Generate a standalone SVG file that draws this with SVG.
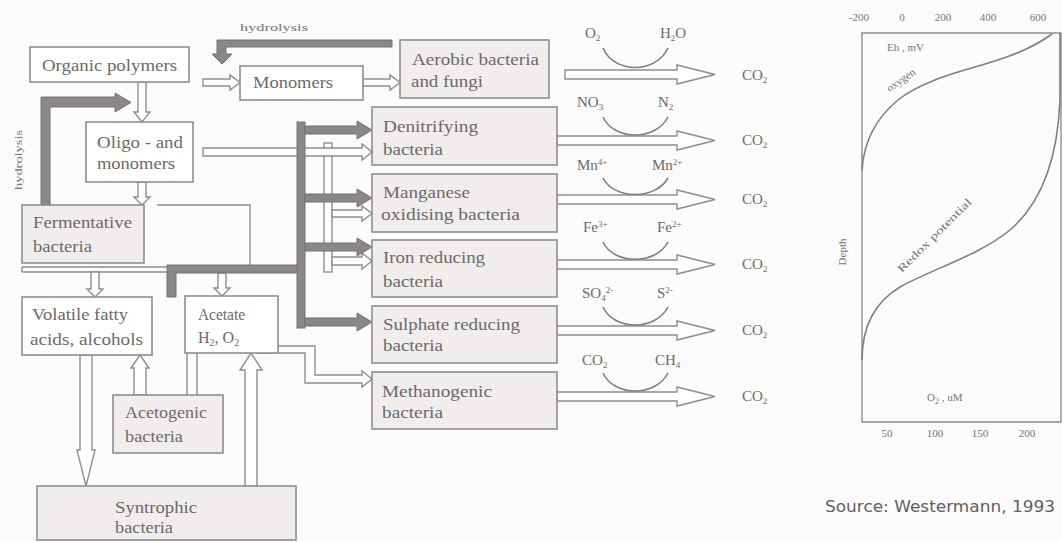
<svg xmlns="http://www.w3.org/2000/svg" width="1062" height="542" viewBox="0 0 1062 542">
<style>
.bg{fill:#fbfbfb}
.box{fill:#ffffff;stroke:#8e8e8e;stroke-width:1.6}
.bac{fill:#f1eded;stroke:#8e8e8e;stroke-width:1.6}
.t{font-family:"Liberation Serif","Times New Roman",serif;font-size:16px;fill:#6a6a6a}
.c{font-family:"Liberation Serif","Times New Roman",serif;font-size:15px;fill:#6a6a6a}
.g{font-family:"Liberation Serif","Times New Roman",serif;font-size:11px;fill:#747474}
.open{fill:#ffffff;stroke:#8e8e8e;stroke-width:1.4;stroke-linejoin:miter}
.thick{fill:#8c8787;stroke:#777272;stroke-width:1}
.ln{fill:none;stroke:#8e8e8e;stroke-width:1.4}
.arc{fill:none;stroke:#7f7f7f;stroke-width:1.6}
.src{font-family:"DejaVu Sans","Verdana",sans-serif;font-size:15px;fill:#606060}
</style>
<rect class="bg" x="0" y="0" width="1062" height="542"/>

<g id="connectors">
  <!-- open (double line) arrows -->
  <path class="open" d="M138,82 V112 H134 L142,122 L150,112 H146 V82 Z"/>
  <path class="open" d="M203,79 H230 V75 L240,82.5 L230,90 V86 H203 Z"/>
  <path class="open" d="M363,79 H390 V75 L400,82.5 L390,90 V86 H363 Z"/>
  <path class="open" d="M138,182 V197 H134 L142,205 L150,197 H146 V182 Z"/>
  <rect class="open" x="324" y="143" width="8" height="129"/>
  <path class="open" d="M203,148 H362 V144 L372,152 L362,160 V156 H203 Z"/>
  <path class="open" d="M332,210 H362 V206 L372,213.5 L362,221 V217 H332 Z"/>
  <path class="open" d="M332,257 H362 V253 L372,261 L362,269 V265 H332 Z"/>
  <path class="ln" d="M22,267 H167 M22,272 H167 M22,267 V272"/>
  <path class="open" d="M91,272 V289 H87 L95,297 L103,289 H99 V272 Z"/>
  <path class="open" d="M218,273 V288 H214 L222,296 L230,288 H226 V273 Z"/>
  <path class="ln" d="M157,205 H250 V265"/>
  <path class="open" d="M80,355 V450 H77 L86,486 L95,450 H92 V355 Z"/>
  <path class="open" d="M134,395 V368 H131 L140,355 L149,368 H146 V395 Z"/>
  <path class="ln" d="M187,353 V395 M197,353 V395"/>
  <path class="open" d="M245,486 V370 H240 L251,353 L262,370 H257 V486 Z"/>
  <path class="open" d="M257,346 H315 V375 H362 V371 L372,379 L362,387 V383 H305 V353 H257 Z"/>

  <!-- right side output arrows -->
  <path class="open" d="M565,70 H677 V65 L715,74.5 L677,84 V79 H565 Z"/>
  <path class="open" d="M557,136 H677 V131 L715,140.5 L677,150 V145 H557 Z"/>
  <path class="open" d="M557,195 H677 V190 L715,199.5 L677,209 V204 H557 Z"/>
  <path class="open" d="M557,260 H677 V255 L715,264.5 L677,274 V269 H557 Z"/>
  <path class="open" d="M557,326 H677 V321 L715,330.5 L677,340 V335 H557 Z"/>
  <path class="open" d="M557,392 H677 V387 L715,396.5 L677,406 V401 H557 Z"/>

  <!-- arcs -->
  <path class="arc" d="M603,48 C614,74 656,74 668,48"/>
  <path class="arc" d="M603,117 C614,141 656,141 668,117"/>
  <path class="arc" d="M603,178 C614,200 656,200 668,178"/>
  <path class="arc" d="M603,242 C614,265 656,265 668,242"/>
  <path class="arc" d="M603,307 C614,331 656,331 668,307"/>
  <path class="arc" d="M603,373 C614,397 656,397 668,373"/>

  <!-- thick hydrolysis / bus arrows -->
  <path class="thick" d="M392,40 H217 V54 H212 L222,64 L232,54 H226 V47 H392 Z"/>
  <path class="thick" d="M41,205 V97 H115 V93 L131,102.5 L115,112 V107 H50 V205 Z"/>
  <path class="thick" d="M167,297 V265 H300 V273 H176 V297 Z"/>
  <rect class="thick" x="297" y="122" width="8" height="206"/>
  <path class="thick" d="M305,126 H357 V121 L372,130 L357,139 V134 H305 Z"/>
  <path class="thick" d="M305,194 H357 V189 L372,198 L357,207 V202 H305 Z"/>
  <path class="thick" d="M305,243 H357 V238 L372,247 L357,256 V251 H305 Z"/>
  <path class="thick" d="M305,318 H357 V313 L372,322 L357,331 V326 H305 Z"/>
</g>

<g id="organic-polymers"><rect class="box" x="30" y="47" width="159" height="35"/><text class="t" x="42" y="71" textLength="135" lengthAdjust="spacingAndGlyphs">Organic polymers</text></g>
<g id="monomers"><rect class="box" x="240" y="66" width="123" height="34"/><text class="t" x="253" y="88" textLength="80" lengthAdjust="spacingAndGlyphs">Monomers</text></g>
<g id="aerobic"><rect class="bac" x="400" y="40" width="149" height="58"/><text class="t" x="412" y="65" textLength="127" lengthAdjust="spacingAndGlyphs">Aerobic bacteria</text><text class="t" x="411" y="87" textLength="72" lengthAdjust="spacingAndGlyphs">and fungi</text></g>
<g id="oligo"><rect class="box" x="86" y="122" width="107" height="60"/><text class="t" x="97" y="148" textLength="86" lengthAdjust="spacingAndGlyphs">Oligo - and</text><text class="t" x="97" y="169" textLength="78" lengthAdjust="spacingAndGlyphs">monomers</text></g>
<g id="fermentative"><rect class="bac" x="22" y="205" width="122" height="58"/><text class="t" x="33" y="228" textLength="99" lengthAdjust="spacingAndGlyphs">Fermentative</text><text class="t" x="33" y="252" textLength="59" lengthAdjust="spacingAndGlyphs">bacteria</text></g>
<g id="volatile"><rect class="box" x="22" y="297" width="130" height="58"/><text class="t" x="32" y="320" textLength="96" lengthAdjust="spacingAndGlyphs">Volatile fatty</text><text class="t" x="30" y="345" textLength="113" lengthAdjust="spacingAndGlyphs">acids, alcohols</text></g>
<g id="acetate"><rect class="box" x="185" y="296" width="93" height="57"/><text class="t" x="198" y="320" textLength="47" lengthAdjust="spacingAndGlyphs">Acetate</text><text class="t" x="198" y="343">H<tspan font-size="10" dy="3">2</tspan><tspan dy="-3">, O</tspan><tspan font-size="10" dy="3">2</tspan></text></g>
<g id="acetogenic"><rect class="bac" x="113" y="395" width="110" height="58"/><text class="t" x="125" y="418" textLength="82" lengthAdjust="spacingAndGlyphs">Acetogenic</text><text class="t" x="125" y="442" textLength="58" lengthAdjust="spacingAndGlyphs">bacteria</text></g>
<g id="syntrophic"><rect class="bac" x="37" y="486" width="259" height="54"/><text class="t" x="115" y="513" textLength="82" lengthAdjust="spacingAndGlyphs">Syntrophic</text><text class="t" x="115" y="533" textLength="58" lengthAdjust="spacingAndGlyphs">bacteria</text></g>
<g id="denitrifying"><rect class="bac" x="372" y="107" width="185" height="58"/><text class="t" x="383" y="132" textLength="95" lengthAdjust="spacingAndGlyphs">Denitrifying</text><text class="t" x="383" y="155" textLength="60" lengthAdjust="spacingAndGlyphs">bacteria</text></g>
<g id="manganese"><rect class="bac" x="372" y="174" width="185" height="58"/><text class="t" x="383" y="198" textLength="87" lengthAdjust="spacingAndGlyphs">Manganese</text><text class="t" x="381" y="220" textLength="139" lengthAdjust="spacingAndGlyphs">oxidising bacteria</text></g>
<g id="iron"><rect class="bac" x="372" y="240" width="185" height="57"/><text class="t" x="383" y="263" textLength="102" lengthAdjust="spacingAndGlyphs">Iron reducing</text><text class="t" x="383" y="287" textLength="60" lengthAdjust="spacingAndGlyphs">bacteria</text></g>
<g id="sulphate"><rect class="bac" x="372" y="306" width="185" height="57"/><text class="t" x="383" y="330" textLength="137" lengthAdjust="spacingAndGlyphs">Sulphate reducing</text><text class="t" x="383" y="351" textLength="60" lengthAdjust="spacingAndGlyphs">bacteria</text></g>
<g id="methanogenic"><rect class="bac" x="372" y="372" width="185" height="57"/><text class="t" x="382" y="397" textLength="110" lengthAdjust="spacingAndGlyphs">Methanogenic</text><text class="t" x="382" y="418" textLength="61" lengthAdjust="spacingAndGlyphs">bacteria</text></g>

<g id="labels">
  <text class="g" x="240" y="31" font-size="12" textLength="68" lengthAdjust="spacingAndGlyphs">hydrolysis</text>
  <text class="g" font-size="12" text-anchor="middle" transform="translate(22,160) rotate(-90)" textLength="60" lengthAdjust="spacingAndGlyphs">hydrolysis</text>

  <text class="c" x="585" y="38">O<tspan font-size="9" dy="3">2</tspan></text>
  <text class="c" x="660" y="38">H<tspan font-size="9" dy="3">2</tspan><tspan dy="-3">O</tspan></text>
  <text class="c" x="577" y="107">NO<tspan font-size="9" dy="3">3</tspan></text>
  <text class="c" x="658" y="107">N<tspan font-size="9" dy="3">2</tspan></text>
  <text class="c" x="577" y="170">Mn<tspan font-size="9" dy="-5">4+</tspan></text>
  <text class="c" x="652" y="170">Mn<tspan font-size="9" dy="-5">2+</tspan></text>
  <text class="c" x="583" y="232">Fe<tspan font-size="9" dy="-5">3+</tspan></text>
  <text class="c" x="657" y="232">Fe<tspan font-size="9" dy="-5">2+</tspan></text>
  <text class="c" x="582" y="298">SO<tspan font-size="9" dy="3">4</tspan><tspan font-size="9" dy="-8">2-</tspan></text>
  <text class="c" x="657" y="298">S<tspan font-size="9" dy="-5">2-</tspan></text>
  <text class="c" x="582" y="365">CO<tspan font-size="9" dy="3">2</tspan></text>
  <text class="c" x="655" y="365">CH<tspan font-size="9" dy="3">4</tspan></text>

  <text class="c" x="742" y="80">CO<tspan font-size="9" dy="3">2</tspan></text>
  <text class="c" x="742" y="145">CO<tspan font-size="9" dy="3">2</tspan></text>
  <text class="c" x="742" y="204">CO<tspan font-size="9" dy="3">2</tspan></text>
  <text class="c" x="742" y="269">CO<tspan font-size="9" dy="3">2</tspan></text>
  <text class="c" x="742" y="335">CO<tspan font-size="9" dy="3">2</tspan></text>
  <text class="c" x="742" y="401">CO<tspan font-size="9" dy="3">2</tspan></text>
</g>

<g id="graph">
  <path class="ln" d="M862,33 H1061 V422 H862 Z" stroke="#8a8a8a"/>
  <path class="arc" d="M1052,34 C1030,50 1005,58 985,64 C955,73 920,82 898,100 C876,118 864,140 862,170"/>
  <path class="arc" d="M1060,33 L1060,100 C1058,150 1045,200 1010,230 C980,255 930,270 900,287 C875,302 862,325 862,360"/>
  <text class="g" x="859" y="21" text-anchor="middle">-200</text>
  <text class="g" x="902" y="21" text-anchor="middle">0</text>
  <text class="g" x="943" y="21" text-anchor="middle">200</text>
  <text class="g" x="988" y="21" text-anchor="middle">400</text>
  <text class="g" x="1038" y="21" text-anchor="middle">600</text>
  <text class="g" x="887" y="51">Eh , mV</text>
  <text class="g" font-size="10" text-anchor="middle" transform="translate(903,83) rotate(-34)">oxygen</text>
  <text class="g" text-anchor="middle" transform="translate(846,252) rotate(-90)">Depth</text>
  <text class="g" text-anchor="middle" transform="translate(937,238) rotate(-45)" textLength="100" lengthAdjust="spacingAndGlyphs">Redox potential</text>
  <text class="g" x="927" y="401">O<tspan font-size="8" dy="3">2</tspan><tspan dy="-3"> , uM</tspan></text>
  <text class="g" x="887" y="437" text-anchor="middle">50</text>
  <text class="g" x="935" y="437" text-anchor="middle">100</text>
  <text class="g" x="980" y="437" text-anchor="middle">150</text>
  <text class="g" x="1027" y="437" text-anchor="middle">200</text>
  <text class="src" x="825" y="512" textLength="230" lengthAdjust="spacingAndGlyphs">Source: Westermann, 1993</text>
</g>
</svg>
